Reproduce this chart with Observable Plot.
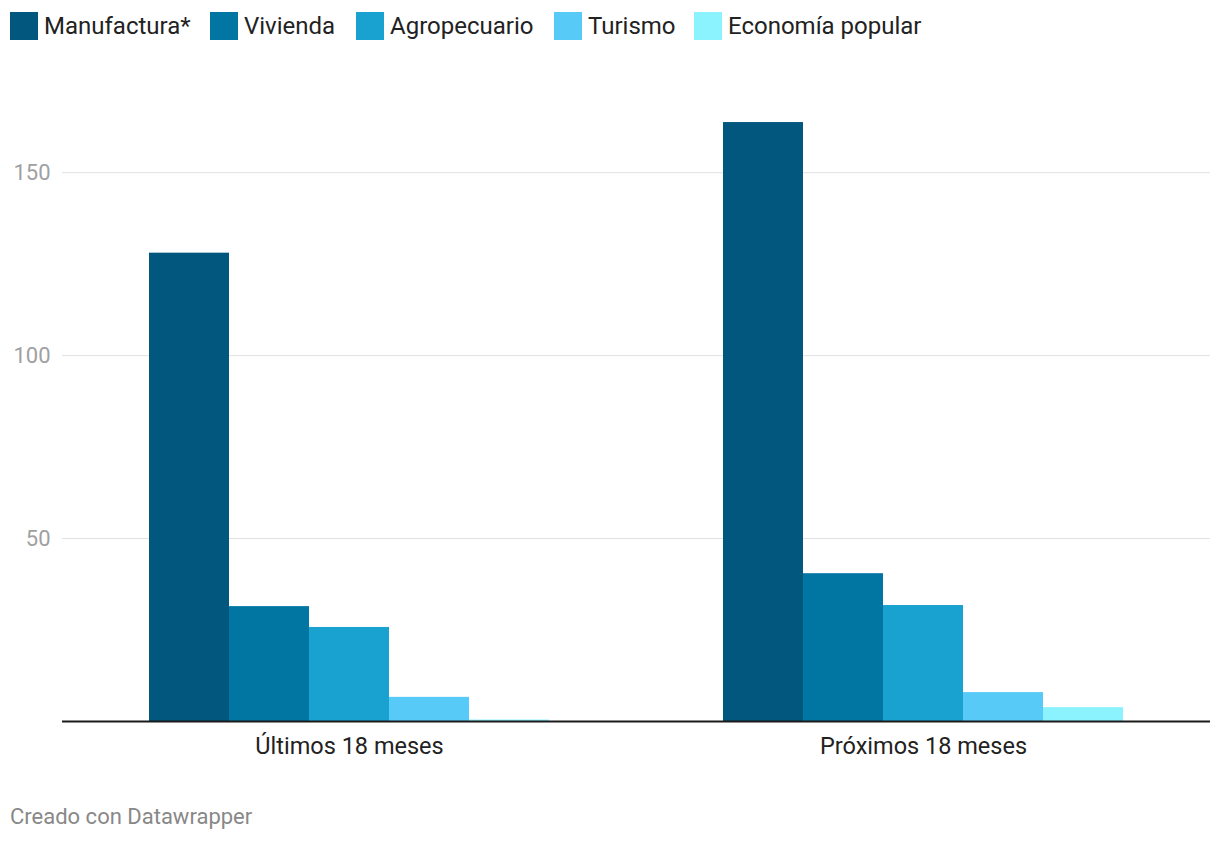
<!DOCTYPE html>
<html>
<head>
<meta charset="utf-8">
<script src="https://cdn.jsdelivr.net/npm/d3@7"></script>
<script src="https://cdn.jsdelivr.net/npm/@observablehq/plot@0.6"></script>
<style>
  body { margin: 0; background: #fff; font-family: Roboto, "Noto Sans", sans-serif; }
  #legend { height: 60px; position: relative; }
  .item { position: absolute; top: 12px; display: flex; align-items: center; font-size: 24px; color: #222; height: 28px; }
  .sw { width: 28px; height: 28px; margin-right: 6px; flex: none; }
  #caption { position: absolute; left: 10px; top: 804px; font-size: 22px; color: #888; }
  #chart { position: absolute; top: 60px; left: 0; }
</style>
</head>
<body>
<div id="legend"></div>
<div id="chart"></div>
<div id="caption">Creado con Datawrapper</div>
<script>
const periods = ["Últimos 18 meses", "Próximos 18 meses"];
const sectors = ["Manufactura*", "Vivienda", "Agropecuario", "Turismo", "Economía popular"];
const ultimos = [128, 31.4, 25.7, 6.6, 0.4];
const proximos = [163.7, 40.4, 31.7, 7.9, 3.8];
const colors = ["#01577d", "#0176a3", "#19a2cf", "#58caf7", "#8bf3fe"];
const yTicks = [50, 100, 150];
const legendX = [10, 210, 356, 554, 694];

const data = [];
sectors.forEach((s, i) => {
  data.push({period: periods[0], sector: s, value: ultimos[i]});
  data.push({period: periods[1], sector: s, value: proximos[i]});
});

// legend
const leg = document.getElementById("legend");
sectors.forEach((s, i) => {
  const d = document.createElement("div");
  d.className = "item";
  d.style.left = legendX[i] + "px";
  d.innerHTML = `<div class="sw" style="background:${colors[i]}"></div><span>${s}</span>`;
  leg.appendChild(d);
});

const chart = Plot.plot({
  width: 1220,
  height: 710,
  marginTop: 39,
  marginBottom: 49,
  marginLeft: 62,
  marginRight: 10,
  style: {fontFamily: "Roboto, 'Noto Sans', sans-serif", background: "transparent"},
  fx: {domain: periods, padding: 0, label: null},
  x: {domain: sectors, paddingInner: 0, paddingOuter: 1.0875, axis: null},
  y: {domain: [0, 170], label: null},
  color: {domain: sectors, range: colors},
  marks: [
    Plot.gridY(yTicks, {stroke: "#e0e0e0", strokeOpacity: 1, strokeWidth: 1}),
    Plot.barY(data, {fx: "period", x: "sector", y: "value", fill: "sector"}),
    Plot.ruleY([0], {stroke: "#1a1a1a", strokeWidth: 2}),
    Plot.axisY({ticks: yTicks, tickSize: 0, tickPadding: 12, fontSize: 22, fill: "#a0a0a0", label: null}),
    Plot.axisFx({anchor: "bottom", tickSize: 0, tickPadding: 16, fontSize: 23.5, fill: "#222", label: null})
  ]
});
document.getElementById("chart").appendChild(chart);
</script>
</body>
</html>
